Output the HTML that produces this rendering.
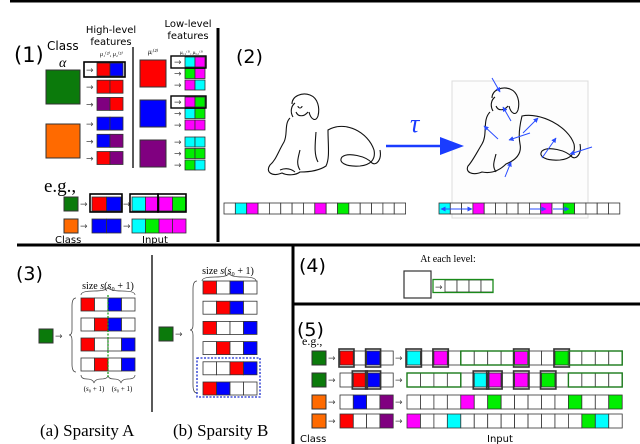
<!DOCTYPE html>
<html><head><meta charset="utf-8"><style>
html,body{margin:0;padding:0;background:#fff}
svg{display:block}
text{font-family:"DejaVu Sans","Liberation Sans",sans-serif}
.serif{font-family:"Liberation Serif","DejaVu Serif",serif}
</style></head><body>
<svg id="fig" width="640" height="444" viewBox="0 0 640 444" xmlns="http://www.w3.org/2000/svg">
<defs>
<marker id="ah" viewBox="0 0 10 10" refX="9" refY="5" markerWidth="5" markerHeight="5" orient="auto"><path d="M0,0 L10,5 L0,10 z" fill="#2a4cff"/></marker>
</defs>
<g id="frame" stroke="#000" stroke-width="3">
<line x1="10" y1="1" x2="640" y2="1"/>
<line x1="218" y1="28" x2="218" y2="242"/>
<line x1="17" y1="245" x2="640" y2="245"/>
<line x1="293" y1="245" x2="293" y2="444"/>
<line x1="293" y1="304" x2="640" y2="304"/>
</g>
<!-- panel 1 text -->
<text x="14" y="62" font-size="21">(1)</text>
<text x="47" y="50" font-size="12">Class</text>
<text x="59" y="67" font-size="14" font-style="italic" class="serif">α</text>
<text x="111" y="33" font-size="10" text-anchor="middle">High-level</text>
<text x="111" y="45" font-size="10" text-anchor="middle">features</text>
<text x="100" y="56" font-size="6" font-style="italic" class="serif">μ₁⁽²⁾, μ₂⁽²⁾</text>
<text x="188" y="27" font-size="10" text-anchor="middle">Low-level</text>
<text x="188" y="39" font-size="10" text-anchor="middle">features</text>
<text x="148" y="54" font-size="7" font-style="italic" class="serif">μᵢ⁽²⁾</text>
<text x="180" y="54" font-size="5" font-style="italic" class="serif">μᵢ,₁⁽¹⁾, μᵢ,₂⁽¹⁾</text>
<line x1="133" y1="47" x2="133" y2="168" stroke="#000" stroke-width="1.3"/>
<text x="44" y="192" font-size="19" class="serif">e.g.,</text>
<text x="55" y="243" font-size="10">Class</text>
<text x="142" y="243" font-size="10">Input</text>
<!-- panel 2 -->
<text x="236" y="63" font-size="19">(2)</text>
<rect x="452" y="81" width="136" height="137" fill="#fdfdfd" stroke="#ddd" stroke-width="1"/>
<g fill="none" stroke="#111" stroke-width="1.1">
<path d="M292,104 C292,96 302,92 310,95 C318,98 320,108 318,116 C316,122 311,120 309,112 M295,103 C291,106 290,112 293,117 M296,112 C298,117 304,117 308,112 M298,106 a2,2 0 1,0 4,0"/>
<path d="M290,118 C284,124 288,134 284,142 C278,152 276,160 270,165 C265,172 272,177 282,173 C288,176 296,175 300,172 C310,172 320,170 326,166 C330,158 328,145 328,130 C345,120 368,132 374,150 C376,160 370,165 360,166 C345,167 338,162 342,157 C348,152 366,156 372,163 C376,166 382,160 380,150 M300,150 C298,158 296,164 300,170 M316,132 C315,145 314,155 318,162 M280,170 C285,168 290,168 295,172"/>
</g>
<g fill="none" stroke="#111" stroke-width="1.1" transform="translate(200,-6)">
<path d="M292,104 C292,96 302,92 310,95 C318,98 320,108 318,116 C316,122 311,120 309,112 M295,103 C291,106 290,112 293,117 M296,112 C298,117 304,117 308,112"/>
<path d="M290,118 C282,126 288,140 282,150 C276,160 272,168 268,172 C265,178 272,182 282,178 C292,180 300,176 306,170 C316,166 322,160 320,150 C318,140 320,130 322,122 C340,118 368,132 374,150 C376,160 370,165 360,166 C345,167 338,162 342,157 C348,152 366,156 372,163 C376,166 382,160 380,150 M296,160 C294,168 292,172 296,178"/>
</g>
<line x1="386" y1="146" x2="442" y2="146" stroke="#1a3cff" stroke-width="2.5"/>
<path d="M440,137 L464,146 L440,155 Z" fill="#1a3cff"/>
<text x="410" y="132" font-size="26" fill="#1a3cff" font-style="italic" class="serif">τ</text>
<g stroke="#2a4cff" stroke-width="1" marker-end="url(#ah)">
<line x1="492" y1="78" x2="500" y2="92"/>
<line x1="511" y1="121" x2="503" y2="107"/>
<line x1="498" y1="139" x2="484" y2="126"/>
<line x1="530" y1="133" x2="509" y2="140"/>
<line x1="523" y1="133" x2="538" y2="118"/>
<line x1="542" y1="158" x2="556" y2="138"/>
<line x1="592" y1="147" x2="570" y2="154"/>
<line x1="505" y1="177" x2="511" y2="162"/>
</g>
<!-- panel 3 -->
<text x="16" y="280" font-size="19">(3)</text>
<line x1="152" y1="255" x2="152" y2="412" stroke="#000" stroke-width="1.3"/>
<text x="108" y="289" font-size="10" text-anchor="middle" class="serif">size <tspan font-style="italic">s</tspan>(<tspan font-style="italic">s</tspan>₀ + 1)</text>
<text x="228" y="274" font-size="10" text-anchor="middle" class="serif">size <tspan font-style="italic">s</tspan>(<tspan font-style="italic">s</tspan>₀ + 1)</text>
<path d="M81,295 q0,-4 13,-4 q13,0 14,-4 q1,4 14,4 q13,0 13,4" fill="none" stroke="#444" stroke-width="0.7"/>
<path d="M202,281 q0,-4 13,-4 q13,0 14,-4 q1,4 14,4 q13,0 13,4" fill="none" stroke="#444" stroke-width="0.7"/>
<path d="M76,298 q-4,0 -4,8 l0,24 q0,5 -3,5 q3,0 3,5 l0,24 q0,8 4,8" fill="none" stroke="#444" stroke-width="0.8"/>
<path d="M197,281 q-4,0 -4,8 l0,36 q0,5 -3,5 q3,0 3,5 l0,50 q0,8 4,8" fill="none" stroke="#444" stroke-width="0.8"/>
<path d="M81,375 q0,4 6,4 q6,0 7,4 q1,-4 7,-4 q7,0 7,-4 M108,375 q0,4 6,4 q6,0 7,4 q1,-4 7,-4 q7,0 7,-4" fill="none" stroke="#444" stroke-width="0.7"/>
<text x="94" y="391" font-size="7" text-anchor="middle" class="serif">(<tspan font-style="italic">s</tspan>₀ + 1)</text>
<text x="122" y="391" font-size="7" text-anchor="middle" class="serif">(<tspan font-style="italic">s</tspan>₀ + 1)</text>
<rect x="197" y="358" width="63" height="39" fill="none" stroke="#1a2cd0" stroke-width="1.3" stroke-dasharray="2,1.5"/>
<text x="40" y="436" font-size="17" class="serif">(a) Sparsity A</text>
<text x="173" y="436" font-size="17" class="serif">(b) Sparsity B</text>
<!-- panel 4 -->
<text x="299" y="272" font-size="19">(4)</text>
<text x="448" y="262" font-size="10" text-anchor="middle" class="serif">At each level:</text>
<rect x="404" y="271" width="27" height="27" fill="#fff" stroke="#333" stroke-width="1.2"/>
<!-- panel 5 -->
<text x="297" y="336" font-size="19">(5)</text>
<text x="302" y="345" font-size="12" class="serif">e.g.,</text>
<text x="300" y="442" font-size="10">Class</text>
<text x="487" y="442" font-size="10">Input</text>
<g id="dyn"></g>
</svg>
<script>
// palette codes: R red, B blue, P purple, C cyan, M magenta, G green, W white, D dark green, O orange
const COL = {R:'#ff0000',B:'#0000ff',P:'#800080',C:'#00ffff',M:'#ff00ff',G:'#00ee00',W:'#ffffff',D:'#0b7a0b',O:'#ff6a00'};
// panel 1 data
const highClasses = ['D','O'];
const highRows = [['R','B'],['R','R'],['P','R'],['B','B'],['B','P'],['R','P']];
const lowParents = ['R','B','P'];
const lowRows = [['C','M'],['G','M'],['M','C'],['M','G'],['C','G'],['M','M'],['C','C'],['G','G'],['G','C']];
const egClasses = ['D','O'];
const egHigh = [['R','B'],['B','B']];
const egLow = [['C','M','M','G'],['C','G','M','M']];
// panel 2 data
const stripLeft = ['W','C','M','W','W','W','W','W','M','W','G','W','W','W','W','W'];
const stripRight = ['C','W','W','M','W','W','W','W','W','M','W','G','W','W','W','W'];
// panel 3 data
const sparsA = [['R','W','B','W'],['W','R','B','W'],['R','W','W','B'],['W','R','W','B']];
const sparsB = [['R','W','B','W'],['W','R','B','W'],['R','W','W','B'],['W','R','W','B'],['W','W','R','B'],['R','B','W','W']];
// panel 5 data
const p5Classes = ['D','D','O','O'];
const p5High = [['R','W','B','W'],['W','R','B','W'],['W','B','W','P'],['R','W','W','P']];
const p5HighMark = [[0,2],[1,2],[],[]];
const p5Input = [
 ['C','W','M','W','W','W','W','W','M','W','W','G','W','W','W','W'],
 ['W','W','W','W','W','C','M','W','M','W','G','W','W','W','W','W'],
 ['W','W','W','W','M','W','G','W','W','W','W','W','G','W','W','G'],
 ['M','W','W','C','W','W','W','W','W','W','W','W','W','G','C','W']];
const p5InputMark = [[0,2,8,11],[5,6,8,10],[],[]];
const p5Green = [[[4,9],[12,16]],[[0,4],[12,16]],[],[]];

const NS='http://www.w3.org/2000/svg';
const dyn=document.getElementById('dyn');
function mk(tag, attrs){
  const e=document.createElementNS(NS,tag);
  for(const k in attrs) e.setAttribute(k,attrs[k]);
  dyn.appendChild(e);
  return e;
}
function cell(x,y,w,h,c,name,sw,stroke){
  const e=mk('rect',{x:x,y:y,width:w,height:h,fill:COL[c],stroke:stroke||'#333','stroke-width':sw||0.8});
  
  
  return e;
}
function arrow(x,y,len,name){
  const e=mk('text',{x:x,y:y,'font-size':9,fill:'#444'});
  e.textContent='→';
  
  
}
function strip(x,y,cw,h,arr,name){
  arr.forEach((c,i)=>cell(x+i*cw,y,cw,h,c,name+'-cell-'+i));
}
// panel 1
highClasses.forEach((c,i)=>cell(46,70+i*54,34,34,c,'class-square-'+i,1));
highRows.forEach((r,i)=>{
  const y=63+i*17.2+(i>=3?2.5:0);
  arrow(86,y+10,0,'high-arrow-'+i);
  strip(97,y,13,13,r,'high-row-'+i);
});
{const e=mk('rect',{x:84,y:62,width:41,height:15,fill:'none',stroke:'#000','stroke-width':1.6});

}
lowParents.forEach((c,i)=>cell(140,60+i*40,26,27,c,'low-parent-'+i,1));
lowRows.forEach((r,i)=>{
  const y=57+Math.floor(i/3)*40+(i%3)*11.5;
  arrow(174,y+8,0,'low-arrow-'+i);
  strip(185,y,10,10,r,'low-row-'+i);
});
[57,97].forEach((y,i)=>{const e=mk('rect',{x:171,y:y-1,width:35,height:12,fill:'none',stroke:'#000','stroke-width':1.4});

});
egClasses.forEach((c,i)=>{
  const y=197+i*22;
  cell(64,y,14,14,c,'eg-class-'+i,1);
  arrow(80,y+10,0,'eg-arrow-a-'+i);
  strip(92,y,14.5,14,egHigh[i],'eg-high-'+i);
  arrow(123,y+10,0,'eg-arrow-b-'+i);
  strip(132,y,13.5,14,egLow[i],'eg-low-'+i);
});
[[90,194,32,18],[130,194,28,18],[158,194,28,18]].forEach(b=>{const e=mk('rect',{x:b[0],y:b[1],width:b[2],height:b[3],fill:'none',stroke:'#000','stroke-width':1.6});

});
// panel 2
strip(224,203,11.35,11,stripLeft,'strip-original');
strip(439,203,11.3,11,stripRight,'strip-transformed');
[[455,209,441,209],[455,209,472,209],[530,209,546,209],[553,209,569,209]].forEach(a=>{
  const e=mk('line',{x1:a[0],y1:a[1],x2:a[2],y2:a[3],stroke:'#2a4cff','stroke-width':1,'marker-end':'url(#ah)'});
  
  
});
// panel 3
cell(39,329,14,14,'D','sparsity-a-class',1);
arrow(55,339,0,'sparsity-a-arrow');
sparsA.forEach((r,i)=>strip(81,298+i*20,13.5,13,r,'sparsity-a-row-'+i));
{const e=mk('line',{x1:108,y1:295,x2:108,y2:377,stroke:'#0a9a0a','stroke-width':1.2,'stroke-dasharray':'2,1.5'});

}
cell(159,327,14,14,'D','sparsity-b-class',1);
arrow(175,337,0,'sparsity-b-arrow');
sparsB.forEach((r,i)=>strip(203,281+i*20.2,13.5,13,r,'sparsity-b-row-'+i));
// panel 4
arrow(435,290,0,'level-arrow');
strip(445,280,12,12,['W','W','W','W'],'level-strip');
{const e=mk('rect',{x:433,y:279.5,width:60,height:13,fill:'none',stroke:'#1a8a1a','stroke-width':1.3});

}
// panel 5
const rowY=[351,373,395,414];
p5Classes.forEach((c,i)=>{
  const y=rowY[i];
  cell(312,y,14,14,c,'p5-class-'+i,1);
  arrow(328,y+10,0,'p5-arrow-a-'+i);
  strip(340,y,13.3,14,p5High[i],'p5-high-'+i);
  arrow(395,y+10,0,'p5-arrow-b-'+i);
  strip(407,y,13.45,14,p5Input[i],'p5-input-'+i);
  p5HighMark[i].forEach(k=>{const e=mk('rect',{x:340+k*13.3-1,y:y-2,width:15,height:18,fill:'none',stroke:'#333','stroke-width':1.6});
  
  });
  p5InputMark[i].forEach(k=>{const e=mk('rect',{x:407+k*13.45-1,y:y-2,width:15.4,height:18,fill:'none',stroke:'#333','stroke-width':1.6});
  
  });
  p5Green[i].forEach(g=>{const e=mk('rect',{x:407+g[0]*13.45,y:y,width:(g[1]-g[0])*13.45,height:14,fill:'none',stroke:'#1a7a1a','stroke-width':1.4});
  
  });
});
</script>
</body></html>
